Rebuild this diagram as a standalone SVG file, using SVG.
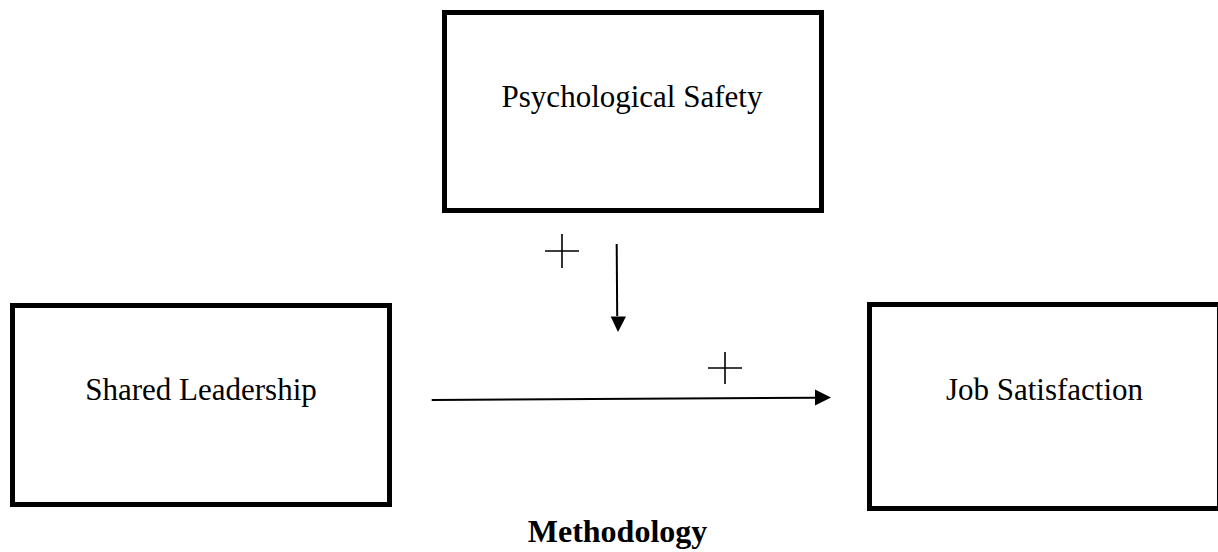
<svg xmlns="http://www.w3.org/2000/svg" width="1218" height="552" viewBox="0 0 1218 552">
<style>
.box{fill:#fff;stroke:#000;stroke-width:5}
.lbl{font-family:"Liberation Serif","Times New Roman",serif;font-size:31px;fill:#000;text-anchor:middle}
.title{font-family:"Liberation Serif","Times New Roman",serif;font-size:32px;font-weight:bold;fill:#000;text-anchor:middle}
.conn{stroke:#000;stroke-width:2;fill:none}
.plus{stroke:#000;stroke-width:1.6;fill:none}
</style>
<defs>
<marker id="arr" markerWidth="8" markerHeight="8" refX="7.5" refY="4" orient="auto" markerUnits="userSpaceOnUse" viewBox="0 0 8 8">
<path d="M0,0 L8,4 L0,8 Z" fill="#000"/>
</marker>
<marker id="arrh" markerWidth="16" markerHeight="16" refX="15" refY="8" orient="auto" markerUnits="userSpaceOnUse" viewBox="0 0 16 16">
<path d="M0,0 L16,8 L0,16 Z" fill="#000"/>
</marker>
</defs>
<rect width="1218" height="552" fill="#fff"/>
<g id="psychological-safety">
<rect class="box" x="444.5" y="12.5" width="377" height="198"/>
<text class="lbl" x="632" y="107">Psychological Safety</text>
</g>
<g id="shared-leadership">
<rect class="box" x="12.5" y="305.5" width="377" height="199"/>
<text class="lbl" x="201" y="400">Shared Leadership</text>
</g>
<g id="job-satisfaction">
<rect class="box" x="869.5" y="304.5" width="350" height="204"/>
<text class="lbl" x="1044.5" y="400">Job Satisfaction</text>
</g>
<g id="connectors">
<line class="conn" x1="616.7" y1="244" x2="617.2" y2="316"/>
<path d="M610.7,316.5 L626,316.5 L618,332 Z" fill="#000"/>
<line class="conn" x1="431.7" y1="400" x2="816" y2="397.7"/>
<path d="M815,389.5 L831,397.5 L815,405.5 Z" fill="#000"/>
</g>
<g id="labels">
<path class="plus" d="M545,251 H579 M562,234 V268"/>
<path class="plus" d="M708,368 H742 M725,352 V384"/>
<text class="title" x="617.5" y="542">Methodology</text>
</g>
</svg>
